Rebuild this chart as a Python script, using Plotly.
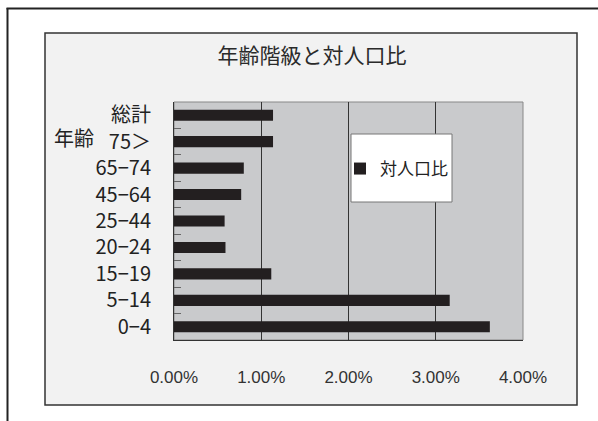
import plotly.graph_objects as go

# Data (bottom to top)
categories = ["0−4", "5−14", "15−19", "20−24", "25−44", "45−64", "65−74", "75＞", "総計"]
ratios = [0.0362, 0.0316, 0.01115, 0.0059, 0.0058, 0.0077, 0.0080, 0.01135, 0.01135]
series_name = "対人口比"
x_ticks = [0, 0.01, 0.02, 0.03, 0.04]

W, H = 598, 421
L, R, T, B = 174, 75, 102, 81
PW, PH = W - L - R, H - T - B

def px(x):
    return (x - L) / PW

def py(y):
    return (H - B - y) / PH

JP = "Noto Sans CJK JP"

fig = go.Figure()
fig.add_trace(go.Bar(
    x=ratios, y=categories, orientation="h", name=series_name,
    marker=dict(color="#231f20", line=dict(width=0)),
    showlegend=True,
))

shapes = [
    # inner chart box
    dict(type="rect", xref="paper", yref="paper", layer="below",
         x0=px(45), x1=px(577), y0=py(405), y1=py(33),
         fillcolor="#f2f2f2", line=dict(color="#333333", width=1.5)),
    # plot area
    dict(type="rect", xref="paper", yref="paper", layer="below",
         x0=0, x1=1, y0=0, y1=1,
         fillcolor="#c9cacc", line=dict(color="#888888", width=1)),
    # outer frame
    dict(type="line", xref="paper", yref="paper", layer="above",
         x0=px(7.5), x1=px(7.5), y0=py(8), y1=py(425),
         line=dict(color="#222222", width=2)),
    dict(type="line", xref="paper", yref="paper", layer="above",
         x0=px(6.5), x1=px(605), y0=py(8.5), y1=py(8.5),
         line=dict(color="#222222", width=2)),
    # legend box
    dict(type="rect", xref="paper", yref="paper", layer="above",
         x0=px(351), x1=px(452), y0=py(202), y1=py(134),
         fillcolor="white", line=dict(color="#777777", width=1)),
]

fig.update_layout(
    width=W, height=H,
    margin=dict(l=L, r=R, t=T, b=B, pad=0),
    paper_bgcolor="white",
    plot_bgcolor="rgba(0,0,0,0)",
    bargap=0.58,
    title=dict(text="年齢階級と対人口比", x=312 / W, xanchor="center", xref="container",
               y=1 - 56 / H, yanchor="middle", yref="container",
               font=dict(family=JP, size=21, color="#2a2a2a")),
    shapes=shapes,
    legend=dict(x=px(340), xanchor="left", y=py(169), yanchor="middle",
                bgcolor="rgba(0,0,0,0)", borderwidth=0,
                font=dict(family=JP, size=17, color="#222222")),
    annotations=[dict(text="年齢", xref="paper", yref="paper", x=px(74), y=py(137),
                      xanchor="center", yanchor="middle", showarrow=False,
                      font=dict(family=JP, size=20, color="#222222"))],
    xaxis=dict(range=[0, 0.04], tickvals=x_ticks, tickformat=".2%",
               showgrid=True, gridcolor="#333333", gridwidth=1,
               showline=True, linecolor="#333333", linewidth=1,
               ticks="inside", ticklen=4, tickcolor="#333333",
               zeroline=False, ticklabelstandoff=22,
               tickfont=dict(family="Liberation Sans", size=17, color="#333333")),
    yaxis=dict(categoryorder="array", categoryarray=categories,
               showline=True, linecolor="#333333", linewidth=1,
               ticks="inside", tickson="boundaries", ticklen=7, tickcolor="#666666",
               showgrid=False, zeroline=False, ticklabelstandoff=18,
               tickfont=dict(family=JP, size=20, color="#222222")),
)

fig.write_html("out.html")
